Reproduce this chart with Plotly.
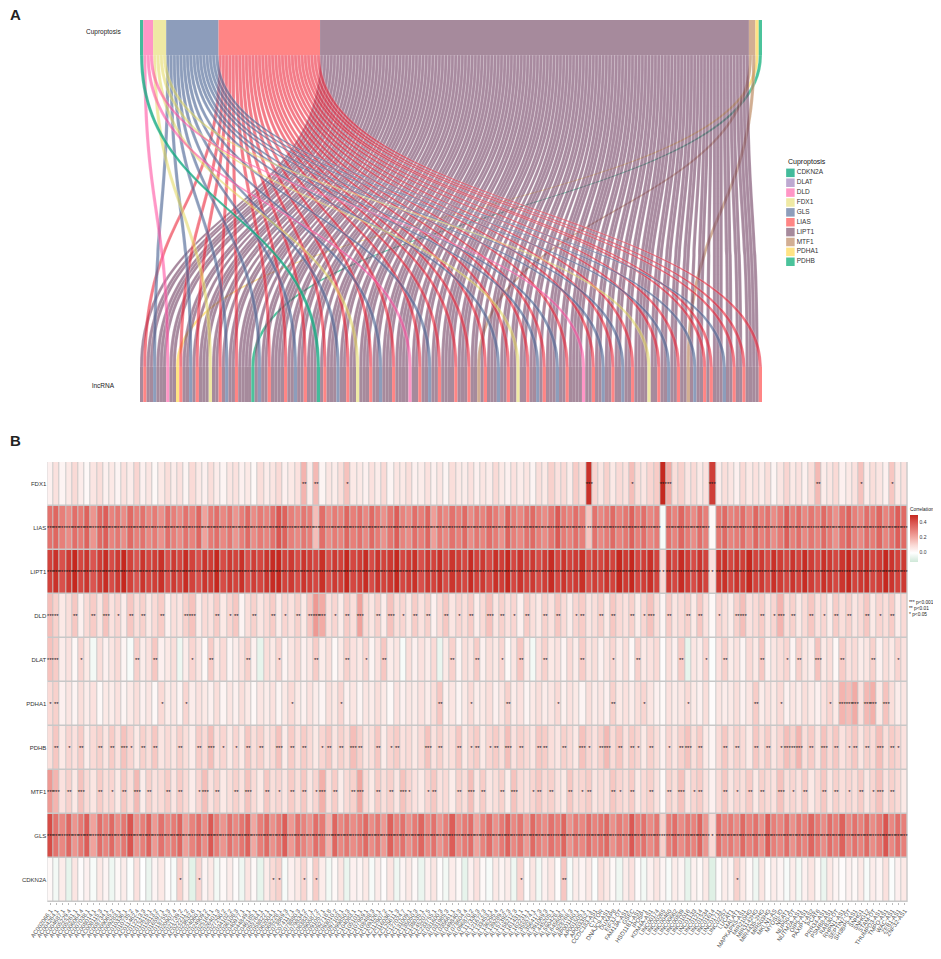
import plotly.graph_objects as go

# ---- panel A: alluvial data (Cuproptosis gene -> lncRNA) ----
GENES = ["CDKN2A", "DLAT", "DLD", "FDX1", "GLS", "LIAS", "LIPT1", "MTF1", "PDHA1", "PDHB"]
GENE_CODES = {"C": "CDKN2A", "T": "DLAT", "D": "DLD", "F": "FDX1", "G": "GLS",
              "A": "LIAS", "L": "LIPT1", "M": "MTF1", "H": "PDHA1", "B": "PDHB"}
GENE_COLORS = ["#43BB9B", "#BDA9D1", "#FF96C6", "#EFE9A4", "#8D9DBB",
               "#FF8585", "#A68A9C", "#D2AE93", "#FFE384", "#4BC39B"]
FLOW_COLORS = ["rgba(20,170,130,0.8)", "rgba(160,130,190,0.7)", "rgba(255,80,160,0.6)",
               "rgba(225,215,90,0.55)", "rgba(80,105,150,0.65)", "rgba(235,35,55,0.6)",
               "rgba(110,60,95,0.6)", "rgba(190,140,100,0.7)", "rgba(255,215,80,0.7)",
               "rgba(30,180,130,0.8)"]

# one entry per lncRNA stratum (left to right), letters = linked genes
LNC_LINKS = [
    "L", "AL", "L", "GL", "L", "L", "DL", "HL", "AL", "L",
    "G", "L", "AL", "L", "L", "FL", "L", "A", "L", "GL",
    "L", "AL", "L", "L", "BL", "L", "GL", "L", "AL", "L",
    "L", "L", "AL", "L", "GL", "L", "AL", "L", "L", "CL",
    "AL", "L", "L", "GL", "L", "AL", "L", "FL", "L", "L",
    "AL", "L", "GL", "L", "L", "A", "L", "L", "L", "L",
    "DL", "L", "AL", "L", "G", "L", "L", "AL", "L", "L",
    "L", "AL", "L", "L", "A", "L", "ML", "L", "AL", "L",
    "L", "GL", "L", "AL", "L", "F", "L", "L", "AL", "L",
    "G", "L", "AL", "L", "L", "GL", "L", "A", "L", "L",
    "L", "L", "DL", "L", "AL", "L", "G", "L", "L", "AL",
    "L", "GL", "L", "A", "L", "L", "L", "L", "FL", "L",
    "AL", "L", "G", "L", "L", "AL", "ML", "L", "GL", "L",
    "A", "L", "AL", "L", "L", "GL", "L", "AL", "L", "A",
    "L", "L", "L", "L", "A",
]

# ---- panel B: correlation heatmap ----
HEAT_ROWS = ["FDX1", "LIAS", "LIPT1", "DLD", "DLAT", "PDHA1", "PDHB", "MTF1", "GLS", "CDKN2A"]
LNC_NAMES = [
    "AC002066.1", "AC004264.1", "AC004687.1", "AC005229.4", "AC005261.1", "AC006064.4", "AC007038.1",
    "AC008014.1", "AC008115.3", "AC008734.1", "AC009065.2", "AC009283.1", "AC010336.1", "AC010735.2",
    "AC011462.4", "AC012213.3", "AC012615.1", "AC015813.2", "AC016597.1", "AC018755.3", "AC020907.4",
    "AC021739.2", "AC022211.2", "AC023632.6", "AC024060.1", "AC024909.2", "AC025164.1", "AC026401.3",
    "AC027290.2", "AC034102.2", "AC036108.3", "AC040977.1", "AC044849.1", "AC046185.1", "AC055764.1",
    "AC058822.1", "AC062004.1", "AC068228.1", "AC073869.3", "AC074117.1", "AC078880.3", "AC079834.2",
    "AC083837.1", "AC090587.2", "AC091057.1", "AC092718.8", "AC093010.2", "AC097103.1", "AC099850.3",
    "AC104083.1", "AC105101.1", "AC107959.1", "AC108488.3", "AC109326.1", "AC112907.2", "AC116036.1",
    "AC125611.3", "AC127024.7", "AC131009.1", "AC135050.3", "AC138035.1", "AC145207.5", "AC233755.1",
    "AL031600.3", "AL031985.3", "AL035661.1", "AL049840.3", "AL078604.4", "AL096870.2", "AL117336.3",
    "AL121672.3", "AL133453.1", "AL136295.4", "AL139289.2", "AL157392.3", "AL158212.3", "AL161431.1",
    "AL162231.1", "AL355574.1", "AL356417.3", "AL391069.3", "AL445205.1", "AL590428.1", "AL645608.7",
    "AL928768.3", "AP001160.1", "AP001505.1", "AP003352.1",
    "CCDC183-AS1", "CYTOR", "DNAJC9-AS1", "DUXAP8", "EIF3J-DT", "FAM13A-AS1", "GSEC", "HSD11B1-AS1",
    "IPO5P1", "KDM4A-AS1", "LINC00174", "LINC00265", "LINC00460", "LINC00662", "LINC00839",
    "LINC01016", "LINC01133", "LINC01214", "LINC01234", "LINC01614", "LINC01711", "LINC02257",
    "LUCAT1", "MALAT1", "MAPKAPK5-AS1", "MIR210HG", "MIR3142HG", "MIR4435-2HG", "MIR503HG",
    "MKLN1-AS", "MYOSLID", "NEAT1", "NUP50-DT", "NUTM2A-AS1", "OIP5-AS1", "PAXIP1-AS2", "PCAT6",
    "PRR34-AS1", "PSMB8-AS1", "RAB30-DT", "RHPN1-AS1", "SEPTIN7-DT", "SH3BP5-AS1", "SNHG1",
    "SNHG12", "STAM-DT", "THUMPD3-AS1", "TMPO-AS1", "WAC-AS1", "ZEB1-AS1", "ZNF32-AS1",
]

COR_FDX1 = [
    .04, .08, .03, .06, .10, .05, .02, .07, .09, .04, .06, .03, .08, .05, .11, .04, .07, .02, .06, .09,
    .05, .08, .03, .10, .06, .04, .09, .05, .03, .07, .08, .04, .06, .02, .09, .05, .07, .10, .04, .06,
    .08, .18, .05, .17, .03, .07, .05, .09, .15, .06, .06, .04, .08, .05, .10, .03, .07, .06, .09, .04,
    .05, .08, .04, .07, .03, .09, .06, .05, .08, .04, .07, .05, .10, .06, .04, .08, .05, .07, .03, .09,
    .06, .12, .08, .10, .05, .13, .09, .48, .11, .07, .12, .06, .10, .08, .16, .09, .07, .11, .13, .55,
    .20, .09, .12, .07, .10, .06, .08, .45, .05, .09, .07, .04, .10, .06, .08, .05, .09, .03, .07, .11,
    .06, .08, .04, .09, .17, .05, .07, .10, .04, .06, .08, .15, .05, .09, .07, .04, .14, .06, .08,
]
COR_LIAS = [
    .33, .36, .30, .27, .34, .31, .37, .25, .35, .38, .29, .32, .27, .35, .30, .33, .28, .31, .26, .34,
    .30, .27, .33, .29, .36, .22, .31, .34, .28, .32, .25, .30, .35, .27, .31, .29, .33, .40, .37, .30,
    .28, .32, .30, .16, .34, .27, .31, .29, .36, .30, .33, .28, .35, .31, .26, .32, .38, .29, .27, .34,
    .30, .36, .23, .31, .28, .33, .30, .35, .27, .32, .29, .34, .31, .26, .37, .30, .28, .33, .35, .30,
    .27, .32, .39, .31, .29, .34, .30, .14, .33, .28, .31, .35, .29, .32, .37, .30, .34, .28, .31, -.02,
    .33, .29, .36, .31, .27, .34, .30, .02, .32, .35, .29, .31, .34, .28, .36, .30, .33, .27, .31, .38,
    .30, .34, .28, .32, .29, .35, .31, .26, .33, .37, .30, .28, .34, .31, .36, .29, .33, .38, .35,
]
COR_LIPT1 = [
    .44, .48, .41, .46, .50, .43, .47, .40, .45, .49, .42, .46, .51, .44, .40, .47, .43, .45, .48, .41,
    .46, .43, .49, .44, .41, .47, .45, .50, .42, .46, .44, .48, .41, .45, .43, .47, .49, .52, .44, .46,
    .42, .47, .45, .43, .48, .41, .46, .44, .50, .43, .45, .49, .42, .47, .44, .46, .51, .43, .45, .48,
    .41, .46, .44, .48, .42, .47, .45, .43, .49, .44, .46, .42, .48, .45, .51, .43, .47, .44, .46, .42,
    .45, .49, .43, .47, .44, .46, .48, .41, .45, .43, .47, .44, .50, .46, .53, .43, .45, .48, .44, .10,
    .46, .43, .49, .45, .42, .47, .44, .08, .46, .48, .43, .47, .45, .50, .44, .46, .42, .48, .45, .43,
    .47, .44, .49, .45, .42, .48, .46, .43, .47, .50, .44, .46, .48, .43, .45, .51, .47, .44, .46,
]
COR_DLD = [
    .16, .12, .06, .09, .14, .04, .10, .13, .07, .15, .08, .11, .05, .14, .09, .12, .06, .10, .13, .04,
    .09, .07, .12, .15, .05, .10, .08, .13, .06, .11, .14, .03, .09, .12, .07, .10, .13, .05, .11, .08,
    .12, .06, .14, .24, .20, .08, .11, .05, .13, .09, .22, .10, .07, .12, .05, .15, .09, .11, .06, .13,
    .08, .12, .04, .10, .14, .07, .11, .09, .13, .05, .10, .15, .07, .12, .08, .11, .04, .13, .09, .06,
    .12, .08, .14, .10, .05, .11, .13, .07, .09, .12, .06, .14, .10, .08, .12, .05, .11, .15, .09, .03,
    .13, .07, .10, .12, .06, .14, .08, .02, .11, .09, .05, .12, .16, .08, .10, .13, .07, .11, .18, .09,
    .12, .06, .10, .14, .08, .11, .05, .13, .09, .12, .07, .10, .14, .06, .11, .09, .13, .05, .10,
]
COR_DLAT = [
    .15, .13, .05, .08, .02, .11, .06, -.03, .09, .04, .07, .10, .03, -.02, .12, .05, .08, .14, .04, .06,
    .09, -.04, .05, .11, .07, .02, .13, .06, .10, .03, .05, .08, .12, .04, -.06, .09, .06, .11, .03, .07,
    .10, .04, .07, .13, .05, .09, .02, .06, .12, .08, .06, .11, .03, .08, .14, .05, .07, -.02, .09, .04,
    .08, .05, .10, -.05, .06, .12, .03, .09, .07, .13, .04, .09, .06, .11, .02, .07, .14, .05, -.03, .08,
    .12, .06, .08, .03, .10, .05, .13, .07, .09, .04, .07, .11, .05, .09, .02, .12, .06, .08, .10, .01,
    .09, .04, .13, -.06, .07, .05, .11, -.01, .08, .12, .05, .08, .03, .10, .06, .14, .04, .07, .09, .11,
    .03, .12, .07, .05, .15, .06, .09, .02, .13, .08, .10, .05, .07, .12, .04, .09, .06, .11, .08,
]
COR_PDHA1 = [
    .10, .12, .04, .07, .03, .09, .05, .08, .02, .06, .05, .08, .03, .06, .09, .04, .07, .02, .10, .05,
    .07, .03, .11, .05, .08, .06, .04, .09, .03, .07, .04, .09, .06, .02, .07, .05, .08, .03, .06, .10,
    .06, .04, .08, .05, .03, .09, .06, .11, .04, .07, .03, .07, .05, .09, .06, .02, .08, .04, .07, .05,
    .08, .05, .09, .14, .04, .07, .03, .06, .10, .05, .06, .09, .04, .07, .12, .05, .08, .03, .06, .09,
    .05, .07, .10, .04, .08, .06, .03, .09, .05, .07, .04, .12, .06, .08, .05, .09, .11, .07, .04, .02,
    .08, .05, .07, .10, .06, .04, .09, .01, .07, .05, .06, .09, .04, .07, .13, .05, .08, .06, .10, .04,
    .07, .05, .09, .06, .04, .08, .11, .06, .18, .16, .20, .08, .17, .19, .06, .15, .09, .05, .07,
]
COR_PDHB = [
    .09, .14, .06, .11, .08, .13, .05, .10, .12, .07, .13, .08, .15, .11, .06, .12, .09, .14, .07, .10,
    .07, .12, .09, .05, .13, .10, .16, .08, .11, .06, .11, .06, .14, .09, .12, .07, .10, .15, .05, .13,
    .08, .13, .10, .06, .11, .14, .07, .12, .09, .16, .12, .07, .09, .14, .05, .11, .13, .08, .10, .06,
    .10, .15, .08, .12, .07, .09, .14, .06, .11, .13, .06, .11, .13, .09, .16, .08, .12, .10, .07, .14,
    .13, .09, .07, .12, .10, .06, .15, .11, .08, .12, .17, .10, .14, .08, .13, .11, .06, .12, .09, .04,
    .11, .07, .12, .15, .09, .13, .06, .03, .10, .14, .08, .12, .10, .06, .14, .09, .13, .07, .11, .16,
    .12, .18, .09, .13, .07, .15, .10, .14, .08, .11, .14, .07, .12, .10, .16, .09, .13, .11, .08,
]
COR_MTF1 = [
    .24, .18, .08, .12, .06, .15, .10, .07, .13, .09, .11, .06, .14, .09, .17, .05, .12, .08, .10, .13,
    .07, .13, .10, .05, .11, .16, .08, .12, .06, .09, .12, .08, .15, .10, .06, .14, .09, .11, .07, .13,
    .09, .14, .07, .11, .19, .08, .13, .05, .10, .12, .21, .10, .06, .13, .09, .12, .07, .15, .11, .08,
    .06, .11, .14, .08, .10, .05, .12, .09, .16, .07, .13, .07, .09, .12, .05, .15, .10, .08, .11, .14,
    .10, .12, .08, .06, .14, .09, .11, .13, .07, .10, .08, .14, .11, .09, .13, .06, .10, .12, .08, .02,
    .12, .09, .15, .07, .11, .13, .08, .04, .10, .14, .07, .11, .09, .13, .06, .12, .10, .08, .15, .09,
    .11, .08, .13, .06, .10, .14, .07, .12, .09, .11, .09, .13, .07, .11, .15, .08, .12, .10, .06,
]
COR_GLS = [
    .42, .33, .28, .36, .25, .31, .38, .22, .34, .29, .35, .27, .32, .40, .26, .30, .37, .24, .33, .28,
    .31, .36, .23, .29, .34, .27, .39, .30, .25, .33, .28, .32, .37, .21, .30, .35, .26, .31, .38, .24,
    .33, .29, .25, .34, .31, .18, .36, .28, .32, .27, .30, .35, .27, .32, .24, .37, .29, .33, .26, .31,
    .36, .28, .33, .25, .30, .38, .27, .31, .34, .22, .29, .34, .26, .31, .37, .28, .32, .24, .35, .30,
    .27, .33, .30, .36, .25, .31, .28, .34, .29, .32, .35, .26, .31, .28, .39, .30, .33, .27, .32, .12,
    .30, .34, .27, .32, .29, .36, .25, .10, .33, .28, .31, .27, .35, .29, .33, .26, .38, .30, .28, .34,
    .26, .32, .29, .36, .31, .27, .34, .30, .37, .28, .33, .29, .35, .27, .31, .40, .28, .34, .30,
]
COR_CDKN2A = [
    .02, -.03, .05, -.06, .07, .01, .04, -.02, .06, .03, -.04, .02, .05, -.01, .08, .00, -.05, .03, .06, .01,
    -.02, .12, .04, -.07, .11, .03, .06, -.03, .02, .05, .01, -.04, .07, .02, -.06, .05, .10, .12, -.02, .04,
    .06, .11, .03, .13, .05, -.03, .02, .07, -.05, .04, .03, .06, -.02, .05, .01, .07, -.04, .03, .06, .02,
    -.05, .04, .07, .01, -.03, .05, .02, -.06, .04, .08, .02, -.02, .06, .03, .05, -.04, .11, .01, .07, -.03,
    .04, .07, .01, .14, -.02, .05, .03, .06, -.01, .09, .06, .02, -.04, .05, .08, .01, -.03, .04, .07, .03,
    -.02, .05, .03, -.06, .04, .02, .06, -.08, .01, .05, .03, .12, .06, .02, -.04, .07, .01, .05, .03, -.02,
    .05, -.03, .04, .07, .02, -.05, .06, .03, .01, .04, .02, .06, -.02, .05, .03, .08, -.01, .04, .06,
]

# significance per cell: 0 none, 1 p<0.05, 2 p<0.01, 3 p<0.001
STARS_FDX1 = ("0000000000" "0000000000" "0000000000" "0000000000" "0202000010" "0000000000" "0000000000"
              "0000000000" "0000000300" "0000100003" "2000000300" "0000000000" "0000200000" "010000100")
STARS_LIAS = ("3333333333" "3333333333" "3333333333" "3333333333" "3333333333" "3333333333" "3333333333"
              "3333333333" "3333333233" "3333333330" "3333333033" "3333333333" "3333333333" "333333333")
STARS_LIPT1 = ("3333333333" "3333333333" "3333333333" "3333333333" "3333333333" "3333333333" "3333333333"
               "3333333333" "3333333333" "3333333331" "3333333133" "3333333333" "3333333333" "333333333")
STARS_DLD = ("3200200203" "0102020020" "0023000201" "2002002010" "2023301020" "3002030102" "0200201020"
             "0302010200" "2020012002" "0200201300" "2002020010" "0230020130" "2002010202" "002010200")
STARS_DLAT = ("3200010000" "0000200200" "0001002000" "0020000100" "0002000020" "0100200000" "0000020002"
              "0001002000" "2000002000" "0100020000" "0020001002" "0000020001" "0200300020" "000200010")
STARS_PDHA1 = ("1200000000" "0000000010" "0010000000" "0000000001" "0000000100" "0000000000" "0002000010"
               "0000200000" "0010000000" "0200001000" "0001000000" "0000200010" "0000001033" "303303000")
STARS_PDHB = ("0201020020" "2031020200" "0200203010" "1020200302" "0200120203" "2002012000" "0302002012"
              "0120302002" "2002003102" "3020210200" "1023020002" "0200202013" "2302030201" "202030210")
STARS_MTF1 = ("3302030020" "1020302002" "0200130200" "2030020102" "0201302002" "3002020310" "0120002030"
              "2002030012" "0200201200" "0210200200" "2030120002" "0102020030" "1020020201" "020130200")
STARS_GLS = ("3333333333" "3333333333" "3333333333" "3333333333" "3333333333" "3333333333" "3333333333"
             "3333333333" "3333333333" "3333333332" "3333333133" "3333333333" "3333333333" "333333333")
STARS_CDKN2A = ("0000000000" "0000000000" "0100100000" "0000001100" "0101000000" "0000000000" "0000000000"
                "0000001000" "0002000000" "0000000000" "0000000000" "0100000000" "0000000000" "000000000")

COR_ROWS = [COR_FDX1, COR_LIAS, COR_LIPT1, COR_DLD, COR_DLAT, COR_PDHA1, COR_PDHB, COR_MTF1, COR_GLS, COR_CDKN2A]
STAR_ROWS = [STARS_FDX1, STARS_LIAS, STARS_LIPT1, STARS_DLD, STARS_DLAT, STARS_PDHA1, STARS_PDHB,
             STARS_MTF1, STARS_GLS, STARS_CDKN2A]
for r, s in zip(COR_ROWS, STAR_ROWS):
    assert len(r) == len(LNC_NAMES) and len(s) == len(LNC_NAMES), (len(r), len(s))

# ---- page geometry ----
# the page body keeps its default 8px margin on every side, so the figure is
# drawn 8px in from the window corner; all positions below are window pixels
PAGE_OFF = 8
W, H = 941 - 2 * PAGE_OFF, 959 - 2 * PAGE_OFF
FONT = "Liberation Sans, Arial, sans-serif"


def px(x):
    return (x - PAGE_OFF) / W


def py(y):
    return 1 - (y - PAGE_OFF) / H


# ---- build the alluvial as a vertical sankey ----
pairs = []
for i, codes in enumerate(LNC_LINKS):
    for g in sorted((GENE_CODES[c] for c in codes), key=GENES.index):
        pairs.append((i, g))
total = len(pairs)
top_genes = [g for g in GENES if any(p[1] == g for p in pairs)]
counts = {g: sum(1 for p in pairs if p[1] == g) for g in top_genes}

SK_L, SK_R, SK_T, SK_B = 140, 762, 20, 402
THICK = 35
breadth = SK_R - SK_L   # screen width of the sankey
depth = SK_B - SK_T     # screen height of the sankey

# plotly scales node.x by the domain width and node.y by the domain height,
# even for orientation "v", so convert pixel positions accordingly
node_x, node_y, node_col = [], [], []
cum = 0
for g in top_genes:
    centre = (cum + counts[g] / 2) / total * breadth
    node_x.append((THICK / 2) / breadth)
    node_y.append(centre / depth)
    node_col.append(GENE_COLORS[GENES.index(g)])
    cum += counts[g]

src, tgt, link_col = [], [], []
for j, (i, g) in enumerate(pairs):
    centre = (j + 0.5) / total * breadth
    node_x.append((depth - THICK / 2) / breadth)
    node_y.append(centre / depth)
    node_col.append(GENE_COLORS[GENES.index(g)])
    src.append(top_genes.index(g))
    tgt.append(len(top_genes) + j)
    link_col.append(FLOW_COLORS[GENES.index(g)])

sankey = go.Sankey(
    orientation="v",
    arrangement="fixed",
    domain=dict(x=[px(SK_L), px(SK_R)], y=[py(SK_B), py(SK_T)]),
    node=dict(pad=0, thickness=THICK, label=[""] * len(node_x), x=node_x, y=node_y,
              color=node_col, line=dict(width=0), hoverinfo="none"),
    link=dict(source=src, target=tgt, value=[1] * len(src), color=link_col,
              line=dict(color="white", width=0.2), hoverinfo="none"),
    textfont=dict(size=1),
)

# ---- heatmap ----
HM_L, HM_R, HM_T, HM_B = 47.3, 907.7, 462, 902
colorscale = [
    [0.0, "#CFE8D8"], [0.1935, "#FFFFFF"], [0.3548, "#FADAD6"], [0.5161, "#F2ABA5"],
    [0.6774, "#E77F79"], [0.8387, "#DA5550"], [1.0, "#C5281F"],
]
heat = go.Heatmap(
    x=LNC_NAMES, y=HEAT_ROWS, z=COR_ROWS,
    text=[["*" * int(c) for c in s] for s in STAR_ROWS],
    texttemplate="%{text}", textfont=dict(size=6, color="#151515", family=FONT),
    colorscale=colorscale, zmin=-0.12, zmax=0.5, xgap=1, ygap=1.5,
    hoverinfo="skip",
    colorbar=dict(
        x=px(910), xanchor="left", y=py(533), yanchor="middle", len=57 / H, lenmode="fraction",
        thickness=8, xpad=0, ypad=0, outlinewidth=0,
        tickvals=[0, 0.2, 0.4], ticktext=["0.0", "0.2", "0.4"], ticks="",
        tickfont=dict(size=5, color="#333", family=FONT),
        title=dict(text="Correlation", side="top", font=dict(size=4.8, color="#222", family=FONT)),
    ),
    xaxis="x", yaxis="y",
)

# ---- legend for panel A, drawn as a small scatter ----
legend_pts = go.Scatter(
    x=[1] * len(GENES), y=GENES, mode="markers+text", text=GENES, textposition="middle right",
    marker=dict(symbol="square", size=8.5, color=GENE_COLORS, line=dict(width=0)),
    textfont=dict(size=6.5, color="#333", family=FONT),
    cliponaxis=False, hoverinfo="skip", showlegend=False, xaxis="x2", yaxis="y2",
)

fig = go.Figure([sankey, heat, legend_pts])

annotations = [
    dict(text="<b>A</b>", x=px(8), y=py(4), xanchor="left", yanchor="top", font=dict(size=15)),
    dict(text="<b>B</b>", x=px(8), y=py(430), xanchor="left", yanchor="top", font=dict(size=15)),
    dict(text="Cuproptosis", x=px(103), y=py(32), xanchor="center", yanchor="middle", font=dict(size=6.5)),
    dict(text="lncRNA", x=px(103), y=py(385), xanchor="center", yanchor="middle", font=dict(size=6.5)),
    dict(text="Cuproptosis", x=px(786), y=py(162), xanchor="left", yanchor="middle",
         font=dict(size=7, color="#111")),
    dict(text="*** p<0.001<br>** p<0.01<br>* p<0.05", x=px(907), y=py(598), xanchor="left",
         yanchor="top", align="left", font=dict(size=4.8)),
]
for a in annotations:
    a.update(xref="paper", yref="paper", showarrow=False)
    a["font"].setdefault("family", FONT)
    a["font"].setdefault("color", "#222")

fig.update_layout(
    width=W, height=H, margin=dict(l=0, r=0, t=0, b=0, autoexpand=False),
    paper_bgcolor="white", plot_bgcolor="rgba(0,0,0,0)",
    font=dict(family=FONT, size=7, color="#333"),
    showlegend=False,
    annotations=annotations,
    shapes=[dict(type="rect", xref="paper", yref="paper", layer="below",
                 x0=px(HM_L), x1=px(HM_R), y0=py(HM_B), y1=py(HM_T),
                 fillcolor="#C8C8C8", line=dict(width=0))],
    xaxis=dict(domain=[px(HM_L), px(HM_R)], anchor="y", tickangle=-55, tickmode="array",
               tickvals=LNC_NAMES, ticktext=LNC_NAMES, tickfont=dict(size=6, color="#555"),
               ticks="outside", ticklen=2, tickcolor="#BBBBBB", showgrid=False, zeroline=False,
               showline=False, automargin=False),
    yaxis=dict(domain=[py(HM_B), py(HM_T)], anchor="x", autorange="reversed",
               tickfont=dict(size=6, color="#333"), ticks="", showgrid=False, zeroline=False,
               automargin=False),
    xaxis2=dict(domain=[px(781), px(875)], anchor="y2", range=[0, 10], visible=False),
    yaxis2=dict(domain=[py(266.7), py(167.9)], anchor="x2", range=[9.5, -0.5], visible=False),
)

fig.write_html("out.html")
